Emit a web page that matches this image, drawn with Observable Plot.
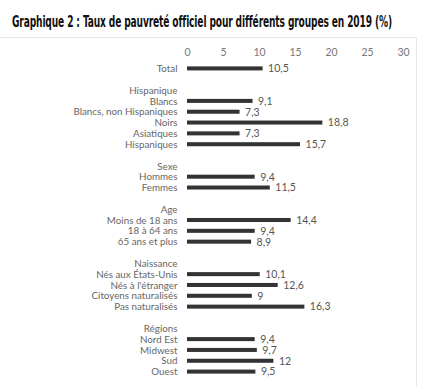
<!DOCTYPE html>
<html>
<head>
<meta charset="utf-8">
<script src="https://cdn.jsdelivr.net/npm/d3@7"></script>
<script src="https://cdn.jsdelivr.net/npm/@observablehq/plot@0.6"></script>
<style>
  html, body { margin: 0; padding: 0; background: #fff; }
  #title { height: 37px; box-sizing: border-box; padding: 12px 0 0 12px; white-space: nowrap; overflow: visible; }
  #title span { display: inline-block; font-family: "DejaVu Sans Condensed", "DejaVu Sans", sans-serif; font-weight: bold; font-size: 16px; color: #111; transform-origin: 0 50%; letter-spacing: -0.2px; }
  #chart { width: 417px; border-top: 1px solid #e6e6e6; border-right: 1px solid #e6e6e6; box-sizing: border-box; }
  #chart svg { display: block; }
</style>
</head>
<body>
<div id="title"><span>Graphique 2 : Taux de pauvreté officiel pour différents groupes en 2019 (%)</span></div>
<div id="chart"></div>
<script>
const labels = ["Total", "", "Hispanique", "Blancs", "Blancs, non Hispaniques", "Noirs", "Asiatiques", "Hispaniques", "", "Sexe", "Hommes", "Femmes", "", "Age", "Moins de 18 ans", "18 à 64 ans", "65 ans et plus", "", "Naissance", "Nés aux États-Unis", "Nés à l'étranger", "Citoyens naturalisés", "Pas naturalisés", "", "Régions", "Nord Est", "Midwest", "Sud", "Ouest"];
const values = [10.5, null, null, 9.1, 7.3, 18.8, 7.3, 15.7, null, null, 9.4, 11.5, null, null, 14.4, 9.4, 8.9, null, null, 10.1, 12.6, 9, 16.3, null, null, 9.4, 9.7, 12, 9.5];
const xTicks = [0, 5, 10, 15, 20, 25, 30];

const rows = labels.map((label, i) => ({i, label, value: values[i]}));
const bars = rows.filter(d => d.value != null);
const fmt = v => String(v).replace(".", ",");

const chart = Plot.plot({
  width: 416,
  height: 349,
  marginLeft: 187,
  marginRight: 13,
  marginTop: 25,
  marginBottom: 10,
  style: {fontFamily: "Lato, sans-serif", fontSize: "10px", color: "#666", background: "#fff"},
  x: {domain: [0, 30], ticks: xTicks, axis: null},
  y: {domain: rows.map(d => d.i), axis: null, padding: 0, round: false},
  marks: [
    Plot.axisX({anchor: "top", ticks: xTicks, tickSize: 0, tickPadding: 8, fill: "#777", fontSize: 10.5, label: null}),
    Plot.axisY({anchor: "left", tickSize: 0, tickPadding: 10, tickFormat: i => labels[i], fill: "#666", fontSize: 9.8, label: null}),
    Plot.barX(bars, {x1: 0, x2: "value", y: "i", fill: "#333", insetTop: 3.4, insetBottom: 3.4}),
    Plot.text(bars, {x: "value", y: "i", text: d => fmt(d.value), dx: 5, textAnchor: "start", fill: "#555", fontSize: 10.5})
  ]
});
document.getElementById("chart").appendChild(chart);

const t = document.querySelector("#title span");
const w = t.getBoundingClientRect().width;
t.style.transform = `scaleX(${380 / w})`;
</script>
</body>
</html>
